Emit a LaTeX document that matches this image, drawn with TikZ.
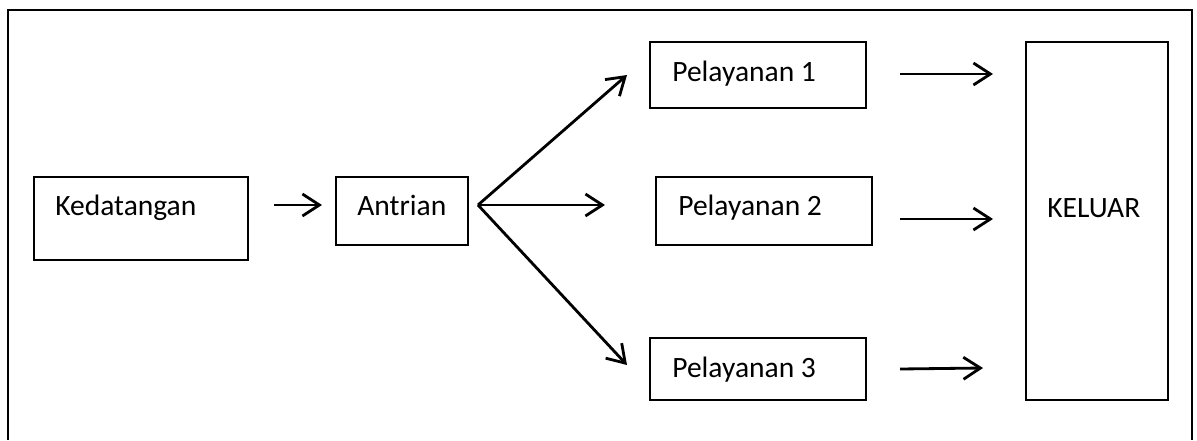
\documentclass[tikz,border=0pt]{standalone}
\usepackage{fontspec}
\setmainfont{Carlito}
\usetikzlibrary{arrows.meta}

\tikzset{
	box/.style={draw, line width=0.85pt, inner sep=0pt},
	lbl/.style={anchor=base west, inner sep=0pt, font=\fontsize{16.8}{20}\selectfont},
	arr/.style={-{Straight Barb[length=0.34cm, width=0.44cm]}, line width=1.6pt}
}

\begin{document}
\begin{tikzpicture}[x=0.02cm, y=-0.02cm]
		\useasboundingbox (0,0) rectangle (1197,440);
		
		% frame
		\draw[line width=0.85pt] (8,440) |- (1192,10) -- (1192,440);
		
		% boxes
		\node[box, minimum width=4.28cm, minimum height=1.66cm] (kedatangan) at (141,218.5) {};
		\node[box, minimum width=2.64cm, minimum height=1.36cm] (antrian) at (402,211) {};
		\node[box, minimum width=4.32cm, minimum height=1.32cm] (pel1) at (758,75) {};
		\node[box, minimum width=4.32cm, minimum height=1.36cm] (pel2) at (764,211) {};
		\node[box, minimum width=4.32cm, minimum height=1.24cm] (pel3) at (758,369) {};
		\node[box, minimum width=2.84cm, minimum height=7.16cm] (keluar) at (1097,221) {};
		
		% labels
		\node[lbl] (tked) at (55,215) {Kedatangan};
		\node[lbl] (tant) at (357,215) {Antrian};
		\node[lbl] (tp1) at (672,81) {Pelayanan 1};
		\node[lbl] (tp2) at (678,215) {Pelayanan 2};
		\node[lbl] (tp3) at (672,377) {Pelayanan 3};
		\node[lbl] (tkel) at (1047,217) {KELUAR};
		
		% arrow ends
		\coordinate (kedout) at (274,205);
		\coordinate (antin) at (322,205);
		\coordinate (fan) at (478,205);
		\coordinate (p1in) at (627,75);
		\coordinate (p2in) at (605,205);
		\coordinate (p3in) at (627,365);
		\coordinate (p1out) at (900,74);
		\coordinate (k1) at (993,74);
		\coordinate (p2out) at (900,219);
		\coordinate (k2) at (993,219);
		\coordinate (p3out) at (900,369);
		\coordinate (k3) at (983,368);
		
		% arrows
		\draw[arr] (kedout) -- (antin);
		\draw[arr] (fan) -- (p1in);
		\draw[arr] (fan) -- (p2in);
		\draw[arr] (fan) -- (p3in);
		\draw[arr] (p1out) -- (k1);
		\draw[arr] (p2out) -- (k2);
		\draw[arr] (p3out) -- (k3);
		
\end{tikzpicture}
\end{document}
